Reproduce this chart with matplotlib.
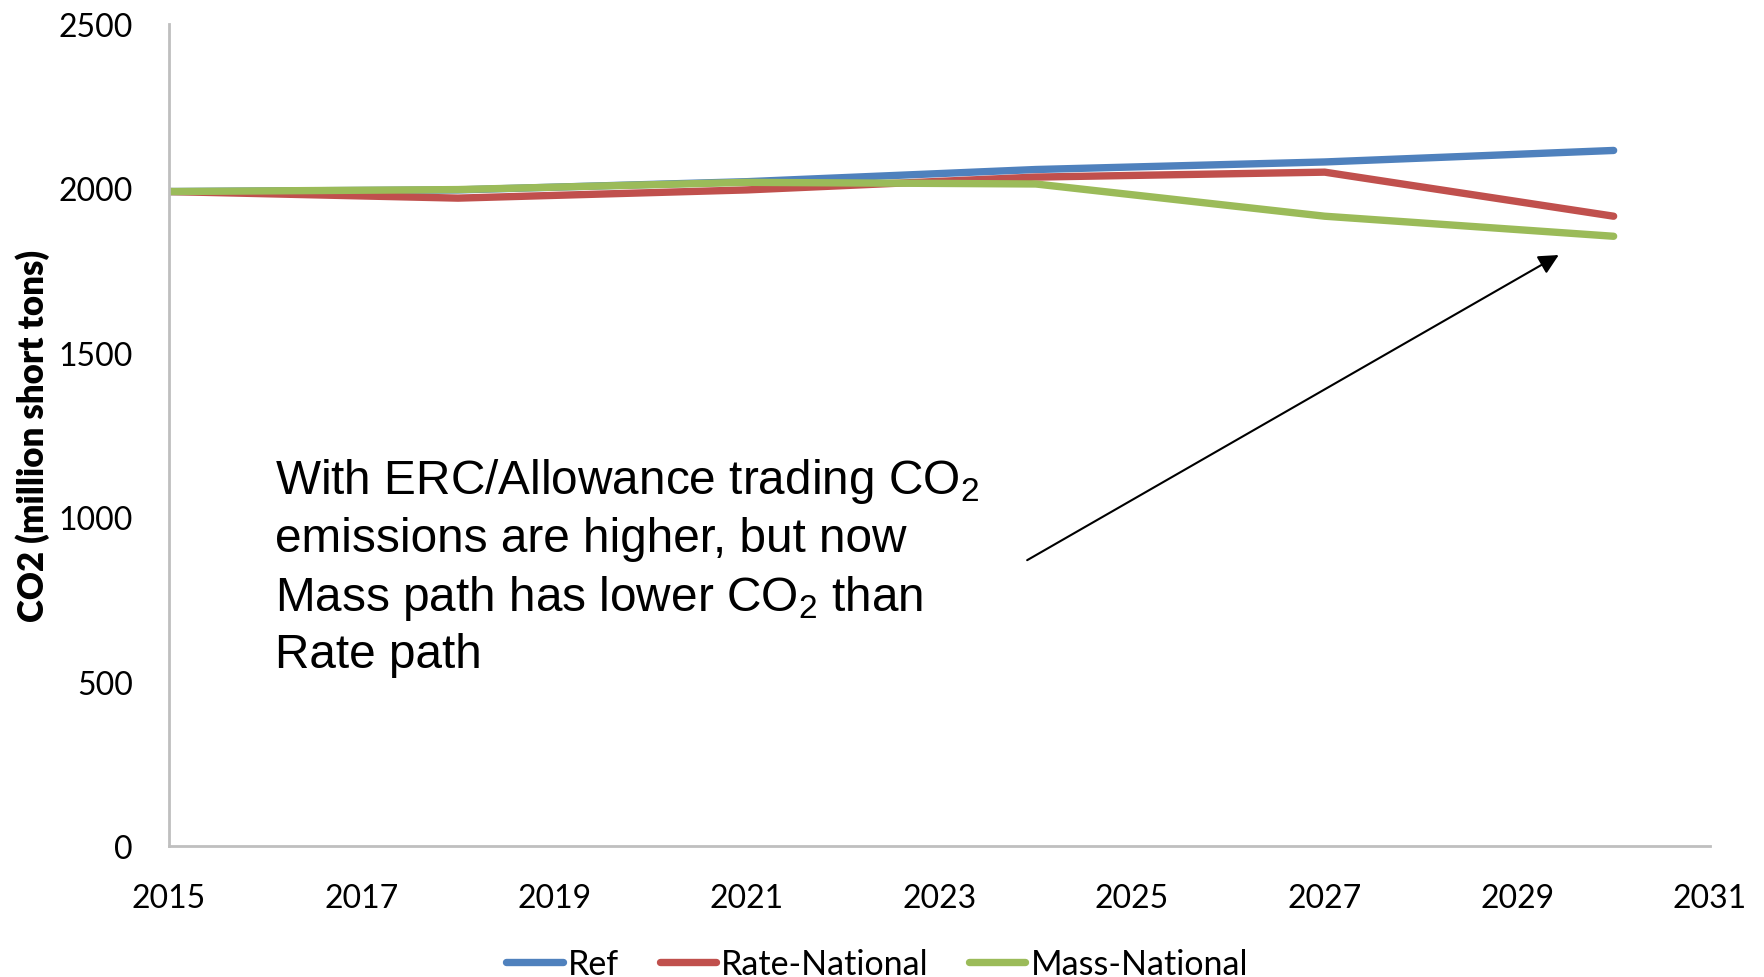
import matplotlib
matplotlib.use("Agg")
import matplotlib.pyplot as plt

plt.rcParams['font.family'] = ['Lato', 'DejaVu Sans']
plt.rcParams['mathtext.fontset'] = 'custom'
plt.rcParams['mathtext.rm'] = 'Liberation Sans'
plt.rcParams['mathtext.it'] = 'Liberation Sans'

# CO2 emissions, million short tons
years = [2015, 2018, 2021, 2024, 2027, 2030]
ref = [1990, 1995, 2020, 2057, 2080, 2115]
rate_national = [1990, 1970, 1995, 2034, 2049, 1915]
mass_national = [1990, 1996, 2018, 2013, 1915, 1854]

series_names = ['Ref', 'Rate-National', 'Mass-National']
series_colors = ['#4F81BD', '#C0504D', '#9BBB59']

note = ("With ERC/Allowance trading CO$_2$\n"
        "emissions are higher, but now\n"
        "Mass path has lower CO$_2$ than\n"
        "Rate path")

fig = plt.figure(figsize=(17.65, 9.78), dpi=100)
ax = fig.add_axes([0.0958, 0.134, 0.873, 0.8406])

for vals, name, col in zip([ref, rate_national, mass_national], series_names, series_colors):
    ax.plot(years, vals, color=col, lw=5.3, label=name,
            solid_capstyle='round', solid_joinstyle='round')

ax.set_xlim(2015, 2031)
ax.set_ylim(0, 2500)
ax.set_xticks(range(2015, 2032, 2))
ax.set_yticks(range(0, 2501, 500))
ax.tick_params(length=0, labelsize=23, pad=26)
ax.tick_params(axis='x', pad=27)

for s in ['top', 'right']:
    ax.spines[s].set_visible(False)
for s in ['left', 'bottom']:
    ax.spines[s].set_color('#BFBFBF')
    ax.spines[s].set_linewidth(2)

ax.set_ylabel('CO2 (million short tons)', fontsize=25, fontweight='heavy', labelpad=6)

ax.text(2016.1, 1185, note, fontsize=34.4, family='Liberation Sans',
        ha='left', va='top', linespacing=1.31)
ax.annotate('', xy=(2029.43, 1797), xytext=(2023.91, 869),
            arrowprops=dict(arrowstyle='-|>', color='black', lw=1.5,
                            mutation_scale=30, shrinkA=0, shrinkB=0))

fig.legend(loc='center', bbox_to_anchor=(0.497, 0.013), ncol=3, frameon=False,
           fontsize=24.5, handlelength=1.65, handletextpad=0.15, columnspacing=1.2)

fig.savefig('out.png', dpi=100)
